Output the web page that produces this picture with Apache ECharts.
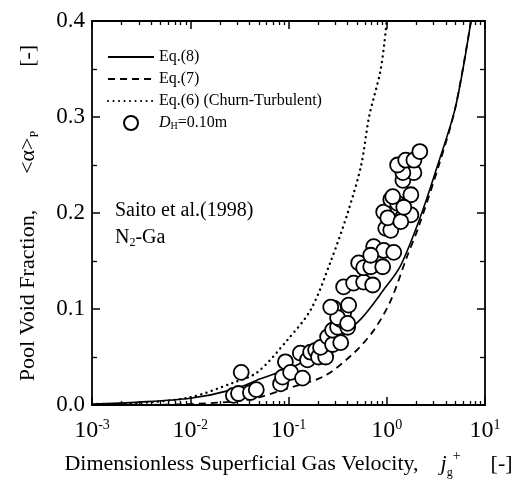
<!DOCTYPE html>
<html><head><meta charset="utf-8">
<script src="https://cdn.jsdelivr.net/npm/echarts@6/dist/echarts.min.js"></script>
<style>html,body{margin:0;padding:0;background:#fff}#c{width:522px;height:486px}</style>
</head><body><div id="c"></div>
<script>
// ---- data ----
const xTickValues = [0.001, 0.01, 0.1, 1, 10];
const yTickLabels = ['0.0', '0.1', '0.2', '0.3', '0.4'];
const seriesNames = ['Eq.(8)', 'Eq.(7)', 'Eq.(6) (Churn-Turbulent)', 'D_H=0.10m'];

const eq8X = [0.001, 0.003, 0.01, 0.027, 0.051, 0.13, 0.3, 0.55, 0.93, 1.38, 2.2, 3.3, 5.0, 7.2];
const eq8Y = [0.001, 0.003, 0.007, 0.016, 0.027, 0.043, 0.067, 0.09, 0.12, 0.145, 0.196, 0.25, 0.31, 0.4];

const eq7X = [0.003, 0.01, 0.03, 0.05, 0.089, 0.23, 0.46, 0.74, 1.1, 1.6, 2.1, 3.4, 5.0, 7.2];
const eq7Y = [0.0, 0.001, 0.004, 0.008, 0.016, 0.03, 0.054, 0.078, 0.109, 0.154, 0.185, 0.25, 0.31, 0.4];

const eq6X = [0.001, 0.003, 0.01, 0.027, 0.048, 0.098, 0.17, 0.27, 0.4, 0.55, 0.66, 0.87, 1.0];
const eq6Y = [0.001, 0.002, 0.008, 0.023, 0.034, 0.068, 0.1, 0.15, 0.2, 0.25, 0.3, 0.35, 0.4];

const expX = [0.0275, 0.033, 0.031, 0.041, 0.047, 0.083, 0.087, 0.093, 0.105, 0.139, 0.132, 0.156, 0.168, 0.189, 0.202,
  0.239, 0.212, 0.25, 0.281, 0.34, 0.281, 0.316, 0.40, 0.34, 0.364, 0.288, 0.409, 0.316, 0.40, 0.364, 0.46, 0.582,
  0.719, 0.518, 0.582, 0.687, 0.91, 0.736, 0.931, 1.178, 0.687, 0.977, 1.099, 0.931, 1.024, 1.099, 1.29, 1.46, 1.76,
  1.39, 1.76, 1.49, 1.151, 1.46, 1.89, 1.46, 1.29, 1.56, 1.89, 2.17, 0.269];
const expY = [0.010, 0.034, 0.012, 0.013, 0.016, 0.022, 0.029, 0.045, 0.034, 0.028, 0.054, 0.047, 0.055, 0.057, 0.05,
  0.05, 0.06, 0.071, 0.063, 0.065, 0.078, 0.081, 0.081, 0.089, 0.096, 0.101, 0.104, 0.091, 0.085, 0.123, 0.127, 0.128,
  0.125, 0.148, 0.143, 0.144, 0.144, 0.165, 0.161, 0.159, 0.156, 0.184, 0.182, 0.201, 0.195, 0.214, 0.21, 0.196, 0.198,
  0.191, 0.219, 0.206, 0.217, 0.234, 0.242, 0.242, 0.25, 0.255, 0.255, 0.264, 0.102];

// ---- build ----
const zip = (xs, ys) => xs.map((x, i) => [x, ys[i]]);
const minorX = [];
for (let d = 0; d < xTickValues.length - 1; d++) {
  for (let k = 2; k <= 9; k++) minorX.push(+(xTickValues[d] * k).toPrecision(3));
}
const FF = '"Liberation Serif", "Times New Roman", serif';
const BLK = '#000';
const CLEAR = 'rgba(0,0,0,0)';

const chart = echarts.init(document.getElementById('c'), null, { renderer: 'canvas' });

function xAxisBase(extra) {
  return Object.assign({
    type: 'log', logBase: 10, min: xTickValues[0], max: xTickValues[xTickValues.length - 1],
    gridIndex: 0, splitLine: { show: false }, axisLabel: { show: false },
    axisLine: { show: false }, axisTick: { show: false }
  }, extra);
}

const option = {
  backgroundColor: '#fff',
  animation: false,
  textStyle: { fontFamily: FF, color: BLK },
  grid: { left: 92, right: 37, top: 21, bottom: 81, containLabel: false },
  xAxis: [
    xAxisBase({
      position: 'bottom',
      axisLine: { show: true, lineStyle: { color: BLK, width: 1.8 } },
      axisTick: { show: true, inside: true, length: 8, lineStyle: { color: BLK, width: 1.5 } },
      axisLabel: {
        show: true, margin: 13, color: BLK,
        formatter: function (v) {
          const e = Math.round(Math.log10(v));
          return '{b|10}{s|' + (e < 0 ? '-' + (-e) : e) + '}';
        },
        rich: {
          b: { fontFamily: FF, fontSize: 24, lineHeight: 26, color: BLK },
          s: { fontFamily: FF, fontSize: 14, lineHeight: 14, verticalAlign: 'top', color: BLK }
        }
      },
      name: '{n|Dimensionless Superficial Gas Velocity,}{g| }{i|j}{sub|g}{sup|+}{g2| }{n|[-]}',
      nameLocation: 'middle', nameGap: 44,
      nameTextStyle: {
        rich: {
          n: { fontFamily: FF, fontSize: 22, lineHeight: 30, color: BLK },
          g: { fontSize: 10, width: 22 },
          g2: { fontSize: 10, width: 30 },
          i: { fontFamily: FF, fontSize: 22, fontStyle: 'italic', lineHeight: 30, color: BLK },
          sub: { fontFamily: FF, fontSize: 12, verticalAlign: 'bottom', lineHeight: 12, color: BLK },
          sup: { fontFamily: FF, fontSize: 14, verticalAlign: 'top', lineHeight: 14, color: BLK }
        }
      }
    }),
    xAxisBase({
      position: 'bottom',
      axisTick: { show: true, inside: true, length: 4, customValues: minorX, lineStyle: { color: BLK, width: 1.3 } }
    }),
    xAxisBase({
      position: 'top',
      axisLine: { show: true, lineStyle: { color: BLK, width: 1.8 } },
      axisTick: { show: true, inside: true, length: 8, lineStyle: { color: BLK, width: 1.5 } }
    }),
    xAxisBase({
      position: 'top',
      axisTick: { show: true, inside: true, length: 4, customValues: minorX, lineStyle: { color: BLK, width: 1.3 } }
    })
  ],
  yAxis: [
    {
      type: 'value', position: 'left', min: 0, max: 0.4, interval: 0.1,
      splitLine: { show: false },
      axisLine: { show: true, lineStyle: { color: BLK, width: 1.8 } },
      axisTick: { show: true, inside: true, length: 8, lineStyle: { color: BLK, width: 1.5 } },
      minorTick: { show: true, splitNumber: 2, length: 5, lineStyle: { color: BLK, width: 1.3 } },
      axisLabel: {
        margin: 7, color: BLK, fontFamily: FF, fontSize: 23,
        formatter: function (v) { return yTickLabels[Math.round(v * 10)]; }
      },
      name: '{n|Pool Void Fraction,}{g| }{n|<α>}{sub|P}{g2| }{n|[-]}',
      nameLocation: 'middle', nameGap: 51, nameRotate: 90,
      nameTextStyle: {
        rich: {
          n: { fontFamily: FF, fontSize: 22, lineHeight: 26, color: BLK },
          g: { fontSize: 10, width: 36 },
          g2: { fontSize: 10, width: 64 },
          sub: { fontFamily: FF, fontSize: 12, verticalAlign: 'bottom', lineHeight: 12, color: BLK }
        }
      }
    },
    {
      type: 'value', position: 'right', min: 0, max: 0.4, interval: 0.1,
      splitLine: { show: false }, axisLabel: { show: false },
      axisLine: { show: true, lineStyle: { color: BLK, width: 1.8 } },
      axisTick: { show: true, inside: true, length: 8, lineStyle: { color: BLK, width: 1.5 } },
      minorTick: { show: true, splitNumber: 2, length: 5, lineStyle: { color: BLK, width: 1.3 } }
    }
  ],
  legend: {
    orient: 'vertical', left: 102, top: 44,
    itemWidth: 46, itemHeight: 14, itemGap: 6,
    data: seriesNames,
    formatter: function (name) {
      if (name === seriesNames[3]) return '{i|D}{sub|H}{n|=0.10m}';
      return '{n|' + name + '}';
    },
    textStyle: {
      color: BLK, fontFamily: FF, fontSize: 16,
      rich: {
        n: { fontFamily: FF, fontSize: 16, lineHeight: 16, color: BLK },
        i: { fontFamily: FF, fontSize: 16, fontStyle: 'italic', lineHeight: 16, color: BLK },
        sub: { fontFamily: FF, fontSize: 10, verticalAlign: 'bottom', lineHeight: 10, color: BLK }
      }
    }
  },
  graphic: [
    { type: 'text', left: 115, top: 201, style: { text: 'Saito et al.(1998)', font: '20px "Liberation Serif"', fill: BLK } },
    {
      type: 'text', left: 115, top: 228,
      style: {
        text: '{n|N}{s|2}{n|-Ga}', fill: BLK,
        rich: {
          n: { fontFamily: FF, fontSize: 20, lineHeight: 22, fill: BLK },
          s: { fontFamily: FF, fontSize: 12, verticalAlign: 'bottom', lineHeight: 12, fill: BLK }
        }
      }
    }
  ],
  series: [
    {
      name: seriesNames[0], type: 'line', xAxisIndex: 0, yAxisIndex: 0,
      data: zip(eq8X, eq8Y), smooth: 0.3, symbol: 'none', showSymbol: false,
      lineStyle: { color: BLK, width: 1.6, type: 'solid' },
      itemStyle: { color: CLEAR, borderWidth: 0 }, z: 2
    },
    {
      name: seriesNames[1], type: 'line', xAxisIndex: 0, yAxisIndex: 0,
      data: zip(eq7X, eq7Y), smooth: 0.3, symbol: 'none', showSymbol: false,
      lineStyle: { color: BLK, width: 1.8, type: [7, 5] },
      itemStyle: { color: CLEAR, borderWidth: 0 }, z: 2
    },
    {
      name: seriesNames[2], type: 'line', xAxisIndex: 0, yAxisIndex: 0,
      data: zip(eq6X, eq6Y), smooth: 0.3, symbol: 'none', showSymbol: false,
      lineStyle: { color: BLK, width: 2.4, type: [0.1, 5.4], cap: 'round' },
      itemStyle: { color: CLEAR, borderWidth: 0 }, z: 2
    },
    {
      name: seriesNames[3], type: 'scatter', xAxisIndex: 0, yAxisIndex: 0,
      data: zip(expX, expY), symbol: 'circle', symbolSize: 15,
      itemStyle: { color: '#fff', borderColor: BLK, borderWidth: 1.8, opacity: 1 }, z: 3
    }
  ]
};
chart.setOption(option);
</script>
</body></html>
